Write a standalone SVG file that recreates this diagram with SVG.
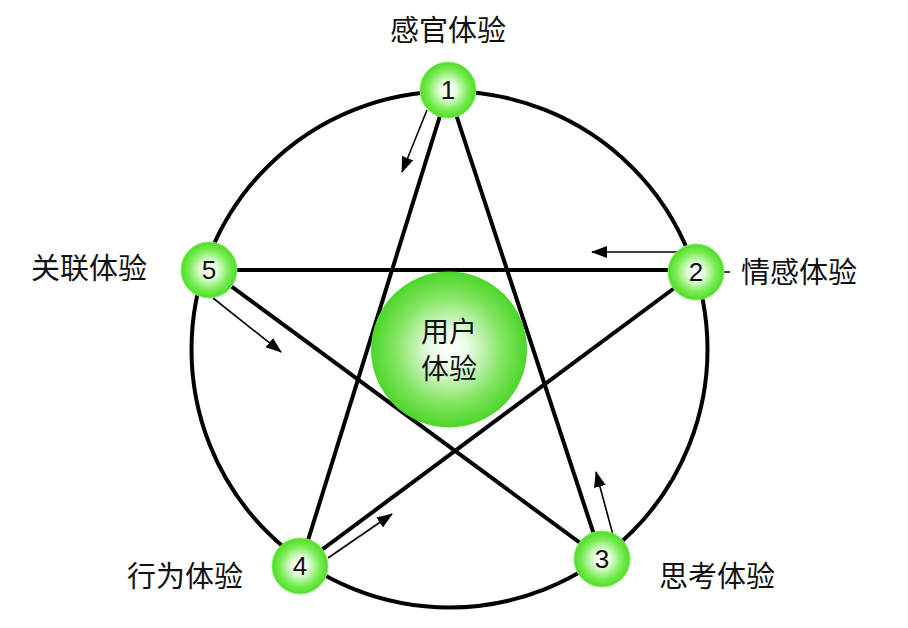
<svg xmlns="http://www.w3.org/2000/svg" width="908" height="628" viewBox="0 0 908 628">
<defs>
<radialGradient id="g" cx="50%" cy="50%" r="50%">
<stop offset="0" stop-color="#ffffff"/>
<stop offset="0.3" stop-color="#e6fde0"/>
<stop offset="0.72" stop-color="#78ec52"/>
<stop offset="1" stop-color="#4fdc28"/>
</radialGradient>
<radialGradient id="gc" cx="50%" cy="50%" r="50%">
<stop offset="0" stop-color="#ffffff"/>
<stop offset="0.25" stop-color="#e8fbe2"/>
<stop offset="0.7" stop-color="#80e45e"/>
<stop offset="1" stop-color="#4cd62a"/>
</radialGradient>
<marker id="ah2" viewBox="0 0 16 12" refX="15" refY="6" markerWidth="16" markerHeight="12" markerUnits="userSpaceOnUse" orient="auto">
<path d="M0,0 L16,6 L0,12 z" fill="#000"/>
</marker>
</defs>
<style>
.s{stroke:#000;stroke-width:4;fill:none}
.a{stroke:#000;stroke-width:1.6;fill:none;marker-end:url(#ah2)}
.n{fill:url(#g);stroke:#86ee66;stroke-width:1}
.num{font-family:"Liberation Sans",Arial,sans-serif;font-size:26px;fill:#111;text-anchor:middle}
.lbl{font-family:"Noto Sans CJK SC","Noto Sans",sans-serif;font-size:29px;fill:#111}
.cl{font-family:"Noto Sans CJK SC","Noto Sans",sans-serif;font-size:28px;fill:#111;text-anchor:middle}
</style>
<rect width="908" height="628" fill="#ffffff"/>
<g id="connectors">
<circle class="s" cx="449.5" cy="349.5" r="258"/>
<line class="s" x1="448" y1="90" x2="602" y2="559"/>
<line class="s" x1="448" y1="90" x2="300" y2="566"/>
<line class="s" x1="209" y1="270" x2="696" y2="270"/>
<line class="s" x1="696" y1="272" x2="300" y2="566"/>
<line class="s" x1="209" y1="270" x2="602" y2="559"/>
<line class="a" x1="427" y1="110" x2="402" y2="172"/>
<line class="a" x1="685" y1="252" x2="592" y2="252"/>
<line class="a" x1="213" y1="298" x2="281" y2="352"/>
<line class="a" x1="328" y1="558" x2="392" y2="514"/>
<line class="a" x1="613" y1="535" x2="596" y2="472"/>
<line x1="724" y1="272" x2="730" y2="272" stroke="#000" stroke-width="1.5"/>
</g>
<g id="center">
<circle cx="449" cy="349.5" r="78" fill="url(#gc)"/>
<text class="cl" x="449" y="342">用户</text>
<text class="cl" x="449" y="379">体验</text>
</g>
<g id="node1">
<circle class="n" cx="448" cy="90" r="28"/>
<text class="num" x="448" y="99">1</text>
<text class="lbl" x="448" y="41" text-anchor="middle">感官体验</text>
</g>
<g id="node2">
<circle class="n" cx="696" cy="272" r="28"/>
<text class="num" x="696" y="281">2</text>
<text class="lbl" x="741" y="283">情感体验</text>
</g>
<g id="node3">
<circle class="n" cx="602" cy="559" r="28"/>
<text class="num" x="602" y="568">3</text>
<text class="lbl" x="659" y="587">思考体验</text>
</g>
<g id="node4">
<circle class="n" cx="300" cy="566" r="28"/>
<text class="num" x="300" y="575">4</text>
<text class="lbl" x="127" y="587">行为体验</text>
</g>
<g id="node5">
<circle class="n" cx="209" cy="270" r="28"/>
<text class="num" x="209" y="279">5</text>
<text class="lbl" x="31" y="279">关联体验</text>
</g>
</svg>
